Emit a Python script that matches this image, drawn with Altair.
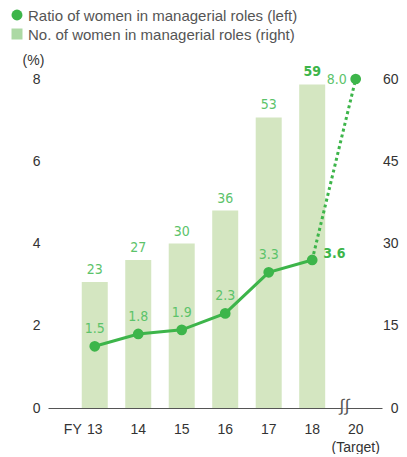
import altair as alt
import pandas as pd

# ---- data ----
years = ["13", "14", "15", "16", "17", "18", "20"]
counts = [23, 27, 30, 36, 53, 59, None]
ratios = [1.5, 1.8, 1.9, 2.3, 3.3, 3.6, 8.0]
left_ticks = [0, 2, 4, 6, 8]
right_ticks = [0, 15, 30, 45, 60]
legend_labels = ["Ratio of women in managerial roles (left)",
                 "No. of women in managerial roles (right)"]
break_lines = [5.68, 5.80]
break_gap = [5.74]

df = pd.DataFrame({"year": years, "pos": list(range(len(years))),
                   "count": counts, "ratio": ratios})

GREEN = "#3db54a"
LABEL = "#5cc36a"
BAR = "#d4e6c1"
LEG_SQ = "#acd9a4"
FONT = "Liberation Sans"
NARROW = "DejaVu Sans Condensed, Liberation Sans"
TXT = "#333333"

x_enc = alt.X("pos:Q", scale=alt.Scale(domain=[-0.96, 6.49], nice=False, zero=False),
              axis=alt.Axis(title=None, labels=False, ticks=False, grid=False,
                            domain=True, domainColor="#555555", domainWidth=1))

base = alt.Chart(df).encode(x=x_enc)

yR = alt.Y("count:Q", scale=alt.Scale(domain=[0, 60]),
           axis=alt.Axis(orient="right", values=right_ticks, title=None, grid=False,
                         ticks=False, domain=False, labelPadding=16, labelAlign="right",
                         labelFontSize=14, labelColor=TXT, labelFont=FONT))

bars = base.transform_filter("isValid(datum.count)").mark_bar(size=26, color=BAR).encode(y=yR)
bar_text = base.transform_filter("isValid(datum.count) && datum.pos < 5").mark_text(
    dy=-5, baseline="bottom", font=NARROW, fontSize=14, color=LABEL).encode(y=yR, text="count:Q")
bar_text_bold = base.transform_filter("datum.pos == 5").mark_text(
    dy=-5, baseline="bottom", font=NARROW, fontSize=14, fontWeight="bold", color=GREEN
).encode(y=yR, text="count:Q")

yL = alt.Y("ratio:Q", scale=alt.Scale(domain=[0, 8]),
           axis=alt.Axis(orient="left", values=left_ticks, title="(%)", titleAngle=0,
                         titleX=-15, titleY=-12, titleAlign="center", titleBaseline="bottom",
                         titleFontSize=14, titleFontWeight="normal", titleColor=TXT,
                         titleFont=FONT, grid=False, ticks=False, domain=False,
                         labelPadding=8, labelFontSize=14, labelColor=TXT, labelFont=FONT))

line_solid = base.transform_filter("datum.pos <= 5").mark_line(
    color=GREEN, strokeWidth=3).encode(y=yL)
line_dot = base.transform_filter("datum.pos >= 5").mark_line(
    color=GREEN, strokeWidth=3, strokeDash=[3, 3]).encode(y=yL)
points = base.mark_circle(size=115, color=GREEN, opacity=1).encode(y=yL)
pt_text = base.transform_filter("datum.pos <= 4").mark_text(
    dy=-17, font=NARROW, fontSize=14, color=LABEL).encode(
    y=yL, text=alt.Text("ratio:Q", format=".1f"))
pt_text_last = base.transform_filter("datum.pos == 5").mark_text(
    align="left", dx=11, dy=-6, font=NARROW, fontSize=14, fontWeight="bold", color=GREEN
).encode(y=yL, text=alt.Text("ratio:Q", format=".1f"))
pt_text_target = base.transform_filter("datum.pos == 6").mark_text(
    align="right", dx=-9, dy=1, font=NARROW, fontSize=14, color=LABEL
).encode(y=yL, text=alt.Text("ratio:Q", format=".1f"))

# x labels
x_labels = base.mark_text(font=FONT, fontSize=14, color=TXT, baseline="middle").encode(
    y=alt.value(351), text="year:N")
fy = base.transform_filter("datum.pos == 0").mark_text(
    text="FY", align="right", dx=-13, font=FONT, fontSize=14, color=TXT, baseline="middle"
).encode(y=alt.value(351))
target = base.transform_filter("datum.pos == 6").mark_text(
    text="(Target)", font=FONT, fontSize=14, color=TXT, baseline="middle"
).encode(y=alt.value(369))

# axis break
brk_gap = alt.Chart(pd.DataFrame({"pos": break_gap})).mark_tick(
    orient="horizontal", size=5, thickness=4, color="white").encode(x=x_enc, y=alt.value(329))
brk = alt.Chart(pd.DataFrame({"pos": break_lines})).mark_text(
    text="∫", font="Liberation Sans", fontSize=17, color="#555555",
    baseline="middle", align="center").encode(x=x_enc, y=alt.value(327))

# legend
ldf1 = pd.DataFrame({"label": [legend_labels[0]]})
ldf2 = pd.DataFrame({"label": [legend_labels[1]]})
leg1_sym = alt.Chart(ldf1).mark_point(shape="circle", filled=True, size=120, color=GREEN, opacity=1).encode(
    x=alt.value(-31), y=alt.value(-64))
leg1_txt = alt.Chart(ldf1).mark_text(align="left", baseline="middle", font=FONT, fontSize=15,
                                     color="#555555").encode(
    x=alt.value(-20), y=alt.value(-63), text="label:N")
leg2_sym = alt.Chart(ldf2).mark_point(shape="square", filled=True, size=121, color=LEG_SQ, opacity=1).encode(
    x=alt.value(-31), y=alt.value(-45))
leg2_txt = alt.Chart(ldf2).mark_text(align="left", baseline="middle", font=FONT, fontSize=15,
                                     color="#555555").encode(
    x=alt.value(-20), y=alt.value(-44), text="label:N")

right = alt.layer(bars, bar_text, bar_text_bold)
left = alt.layer(line_solid, line_dot, points, pt_text, pt_text_last, pt_text_target,
                 x_labels, fy, target, brk_gap, brk,
                 leg1_sym, leg1_txt, leg2_sym, leg2_txt)

chart = alt.layer(right, left).resolve_scale(y="independent").properties(
    width=334, height=329,
    autosize=alt.AutoSizeParams(type="none"),
    padding={"left": 40, "top": 71, "right": 17, "bottom": 46},
).configure_view(stroke=None)

chart.save("out.html", embed_options={"renderer": "svg", "actions": False})
